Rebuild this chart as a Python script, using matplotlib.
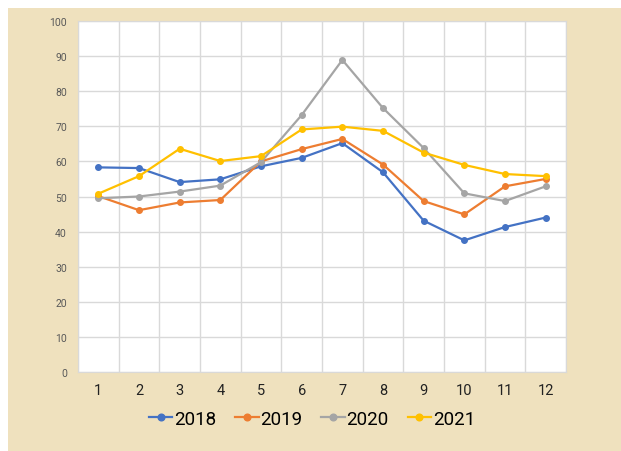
import matplotlib
matplotlib.use("Agg")
from matplotlib import pyplot as plt
import numpy as np

months = [1, 2, 3, 4, 5, 6, 7, 8, 9, 10, 11, 12]
y2018 = [58.3, 58.1, 54.1, 54.9, 58.6, 61.0, 65.2, 56.9, 43.1, 37.5, 41.3, 44.0]
y2019 = [50.1, 46.1, 48.3, 49.0, 60.0, 63.5, 66.4, 59.1, 48.7, 44.9, 52.9, 55.0]
y2020 = [49.5, 50.0, 51.4, 53.1, 59.8, 73.2, 88.9, 75.2, 63.8, 50.9, 48.7, 52.9]
y2021 = [50.8, 55.8, 63.6, 60.1, 61.5, 69.1, 69.9, 68.7, 62.5, 59.0, 56.4, 55.8]

series = [("2018", y2018, "#4472C4"), ("2019", y2019, "#ED7D31"),
          ("2020", y2020, "#A5A5A5"), ("2021", y2021, "#FFC000")]

plt.rcParams['font.family'] = ['Roboto', 'DejaVu Sans']

fig = plt.figure(figsize=(6.21, 4.52), dpi=100)
fig.patches.append(plt.Rectangle((8/621, 0), 1, 1 - 9/452, transform=fig.transFigure,
                                 facecolor="#EFE1BE", edgecolor="none", zorder=-10))
# title line is cut off at the top, as in the source
fig.text(5/621, 1.012, "2018-2021", fontsize=11, color="black", va="center", ha="left")

ax = fig.add_axes([78/621, 1 - 373/452, (566 - 78)/621, (373 - 22)/452])
ax.set_facecolor("white")

for name, vals, c in series:
    ax.plot(months, vals, color=c, lw=1.6, marker="o", ms=4, label=name)

ax.set_xlim(0.5, 12.5)
ax.set_ylim(0, 100)
ax.set_yticks(np.arange(0, 101, 10))
ax.set_xticks(months)
ax.set_xticks(np.arange(0.5, 12.6, 1), minor=True)
ax.grid(True, which="major", axis="y", color="#D9D9D9", lw=1)
ax.grid(True, which="minor", axis="x", color="#D9D9D9", lw=1)
ax.set_axisbelow(True)
ax.tick_params(axis="x", which="both", length=0, labelsize=10.5, labelcolor="#222222", pad=8)
ax.tick_params(axis="y", length=0, labelsize=7.5, labelcolor="#595959", pad=8)
for s in ax.spines.values():
    s.set_color("#D9D9D9")

fig.legend(loc="center", bbox_to_anchor=(312/621, 1 - 420/452), ncol=4, frameon=False,
           fontsize=13.5, handlelength=1.25, handletextpad=0.1, columnspacing=1.0,
           markerscale=1.2)

fig.savefig("out.png", dpi=100)
